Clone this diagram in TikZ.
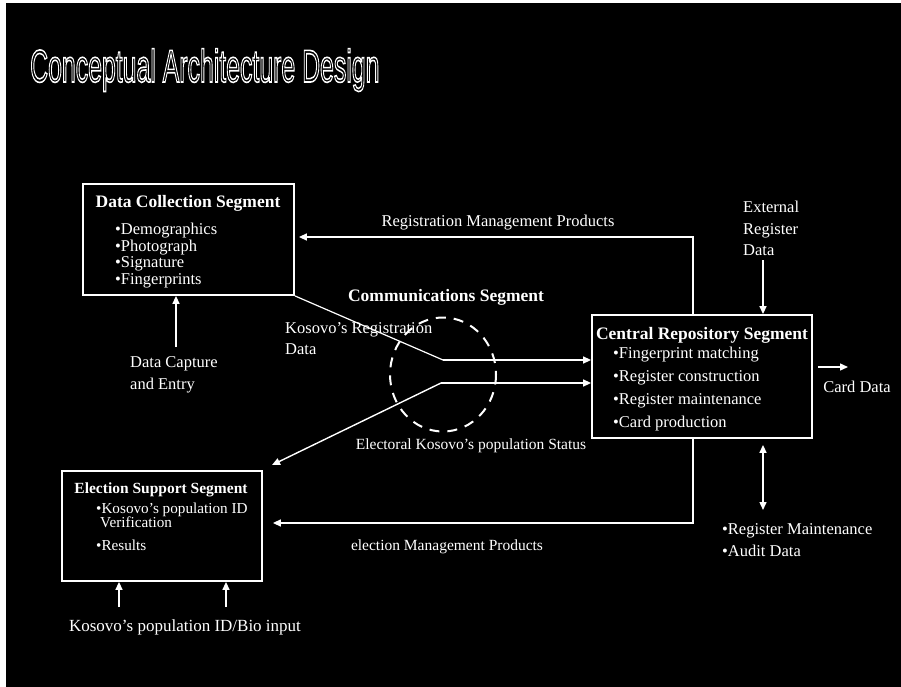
\documentclass[tikz,border=0pt]{standalone}
\usepackage{fontspec}
\setmainfont{Liberation Serif}
\newfontfamily\headfont{Liberation Sans}
\usetikzlibrary{arrows.meta}
\newcommand\outlinetext[1]{\special{pdf:literal direct 1 Tr 1.6 w 1 1 1 RG}#1\special{pdf:literal direct 0 Tr}}

\begin{document}
\begin{tikzpicture}[x=1pt,y=-1pt,
    seg/.style={draw=white,line width=1.8pt,inner sep=0pt},
    lbl/.style={text=white,inner sep=0pt,align=left,font=\fontsize{16.5}{21}\selectfont},
    hd/.style={lbl,font=\fontsize{17.5}{21}\selectfont\bfseries},
    flow/.style={draw=white,line width=1.4pt,-{Triangle[length=8pt,width=7pt]}},
    wire/.style={draw=white,line width=1.2pt}]
  \useasboundingbox (0,0) rectangle (901,687);
  \fill[white] (0,0) rectangle (901,687);
  \fill[black] (6,3) rectangle (901,687);
  % title
  \node[anchor=base west,inner sep=0pt] (title) at (30,82)
    {\scalebox{0.54}[1]{\headfont\fontsize{46}{50}\selectfont\outlinetext{Conceptual Architecture Design}}};

  % segment boxes
  \node[seg,minimum width=211pt,minimum height=111pt] (dcs) at (188.5,239.5) {};
  \node[seg,minimum width=220pt,minimum height=123pt] (crs) at (702,376.5) {};
  \node[seg,minimum width=200pt,minimum height=110pt] (ess) at (162,526) {};

  \node[hd] (dcs-title) at (188,203) {Data Collection Segment};
  \node[lbl,anchor=north west,font=\fontsize{16.5}{16.5}\selectfont] (dcs-items) at (115,223)
    {•Demographics\\•Photograph\\•Signature\\•Fingerprints};
  \node[hd] (crs-title) at (702,335) {Central Repository Segment};
  \node[lbl,anchor=north west,font=\fontsize{16.5}{23}\selectfont] (crs-items) at (613,347)
    {•Fingerprint matching\\•Register construction\\•Register maintenance\\•Card production};
  \node[hd,font=\fontsize{15.5}{21}\selectfont\bfseries] (ess-title) at (161,490) {Election Support Segment};
  \node[lbl,anchor=north west,font=\fontsize{15.2}{15.2}\selectfont] (ess-items) at (96,503)
    {•Kosovo's population ID\\[-1.5pt]\hspace*{4pt}Verification\\[7.5pt]•Results};

  % communications segment
  \draw[white,line width=2pt,dash pattern=on 10pt off 8pt] (443,374.5) ellipse (53 and 57);
  \node[hd] (comm) at (446,297) {Communications Segment};
  \coordinate (hub-in) at (443,360);
  \coordinate (hub-out) at (441,383);
  \coordinate (ess-tip) at (272,465);
  \draw[wire] (dcs.south east) -- (hub-in);
  \draw[flow] (hub-in) -- (hub-in -| crs.west);
  \draw[flow] (hub-out) -- (hub-out -| crs.west);
  \draw[flow] (hub-out) -- (ess-tip);

  % labels
  \node[lbl] (rmp) at (498,223) {Registration Management Products};
  \node[lbl,anchor=north west,font=\fontsize{16.5}{21.5}\selectfont] (ext) at (743,201) {External\\Register\\Data};
  \node[lbl] (card) at (857,387) {Card Data};
  \node[lbl,anchor=north west] (kreg) at (285,322) {Kosovo's Registration\\Data};
  \node[lbl,font=\fontsize{15.5}{21}\selectfont] (eks) at (471,446) {Electoral Kosovo's population Status};
  \node[lbl,anchor=north west,font=\fontsize{16.5}{22}\selectfont] (cap) at (130,356) {Data Capture\\and Entry};
  \node[lbl,font=\fontsize{15.5}{21}\selectfont] (emp) at (447,547) {election Management Products};
  \node[lbl,font=\fontsize{17}{21}\selectfont] (bio) at (185,627) {Kosovo's population ID/Bio input};
  \node[lbl,anchor=north west,font=\fontsize{16.5}{22}\selectfont] (rma) at (722,523) {•Register Maintenance\\•Audit Data};

  % product flows
  \coordinate (rmp-turn) at (693,237);
  \coordinate (emp-turn) at (693,523);
  \coordinate (reg-x) at (763,300);
  \coordinate (card-end) at (848,367);
  \draw[flow,shorten >=4pt] (crs.north -| rmp-turn) -- (rmp-turn) -- (rmp-turn -| dcs.east);
  \draw[flow,shorten >=10pt] (crs.south -| emp-turn) -- (emp-turn) -- (emp-turn -| ess.east);
  \draw[flow,shorten <=4pt] (ext.south -| reg-x) -- (crs.north -| reg-x);
  \draw[flow,{Triangle[length=8pt,width=7pt]}-{Triangle[length=8pt,width=7pt]},shorten <=6pt,shorten >=13pt]
    (crs.south -| reg-x) -- (rma.north -| reg-x);
  \draw[flow] ([xshift=5pt]crs.east |- card-end) -- (card-end);
  \draw[flow,shorten <=9pt] (cap.north -| 176,0) -- (dcs.south -| 176,0);
  \foreach \bx in {119,226}
    \draw[flow,shorten <=12pt] (bio.north -| \bx,0) -- (ess.south -| \bx,0);
\end{tikzpicture}
\end{document}
